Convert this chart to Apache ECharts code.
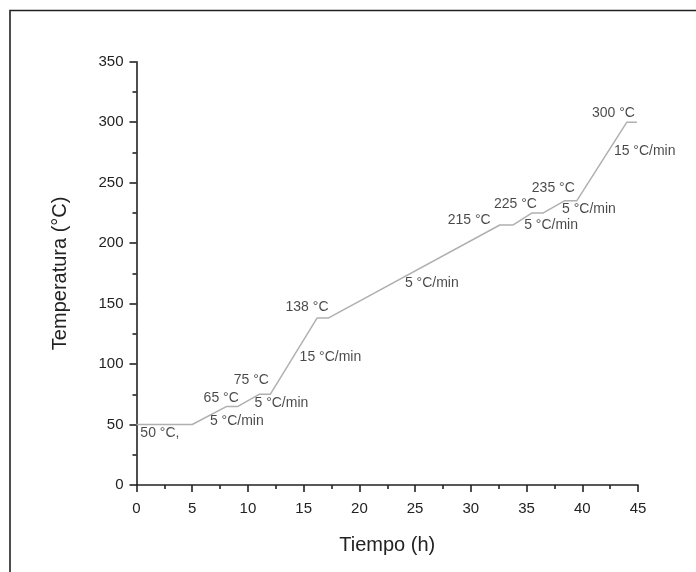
<!DOCTYPE html>
<html>
<head>
<meta charset="utf-8">
<script src="https://cdn.jsdelivr.net/npm/echarts@6/dist/echarts.min.js"></script>
<style>
  html, body { margin: 0; padding: 0; background: #fff; }
  #chart { width: 696px; height: 572px; }
</style>
</head>
<body>
<div id="chart"></div>
<script>
// Heating programme: time (h) vs. temperature (°C)
const timeH = [0, 5, 8.1, 9.1, 11, 12, 16.2, 17.2, 32.6, 33.8, 35.5, 36.5, 38.4, 39.5, 44, 44.9];
const tempC = [50, 50, 65, 65, 75, 75, 138, 138, 215, 215, 225, 225, 235, 235, 300, 300];

// Step annotations (text and anchor position in data units)
const noteText = ['50 °C,', '65 °C', '5 °C/min', '75 °C', '5 °C/min', '138 °C', '15 °C/min',
                  '5 °C/min', '215 °C', '225 °C', '5 °C/min', '235 °C', '5 °C/min', '300 °C', '15 °C/min'];
const noteX = [2.1, 7.6, 9.0, 10.3, 13.0, 15.3, 17.4, 26.5, 29.85, 34.0, 37.2, 37.4, 40.6, 42.8, 45.6];
const noteY = [43, 71.7, 52.9, 86.8, 67.5, 147.4, 106.1, 166.8, 219.1, 232.1, 215.0, 245.3, 227.9, 307.8, 276.4];

const xTicks = [0, 5, 10, 15, 20, 25, 30, 35, 40, 45];
const yTicks = [0, 50, 100, 150, 200, 250, 300, 350];

const FONT = "'Liberation Sans', Arial, sans-serif";
const INK = '#222';

const chart = echarts.init(document.getElementById('chart'), null, { renderer: 'canvas' });

chart.setOption({
  animation: false,
  backgroundColor: '#fff',
  textStyle: { fontFamily: FONT },
  graphic: [{
    type: 'rect',
    shape: { x: 10, y: 10.5, width: 700, height: 600 },
    style: { fill: 'none', stroke: INK, lineWidth: 1.6 },
    silent: true
  }],
  grid: { left: 136.5, right: 58, top: 61.7, bottom: 87, containLabel: false },
  xAxis: {
    type: 'value',
    min: xTicks[0],
    max: xTicks[xTicks.length - 1],
    interval: 5,
    name: 'Tiempo (h)',
    nameLocation: 'middle',
    nameGap: 50,
    nameTextStyle: { fontSize: 20, color: INK, fontFamily: FONT },
    axisLine: { show: true, onZero: false, lineStyle: { color: INK, width: 1.6 } },
    axisTick: { show: true, inside: false, length: 7, lineStyle: { color: INK, width: 1.6 } },
    minorTick: { show: true, splitNumber: 2, length: 4, lineStyle: { color: INK, width: 1.6 } },
    axisLabel: { fontSize: 15, color: INK, margin: 16, fontFamily: FONT },
    splitLine: { show: false }
  },
  yAxis: {
    type: 'value',
    min: yTicks[0],
    max: yTicks[yTicks.length - 1],
    interval: 50,
    name: 'Temperatura (°C)',
    nameLocation: 'middle',
    nameGap: 66,
    nameTextStyle: { fontSize: 20, color: INK, fontFamily: FONT },
    axisLine: { show: true, onZero: false, lineStyle: { color: INK, width: 1.6 } },
    axisTick: { show: true, inside: false, length: 7, lineStyle: { color: INK, width: 1.6 } },
    minorTick: { show: true, splitNumber: 2, length: 4, lineStyle: { color: INK, width: 1.6 } },
    axisLabel: { fontSize: 15, color: INK, margin: 13, fontFamily: FONT },
    splitLine: { show: false }
  },
  series: [
    {
      type: 'line',
      data: timeH.map((t, i) => [t, tempC[i]]),
      showSymbol: false,
      symbol: 'none',
      lineStyle: { color: '#b0b0b0', width: 1.5 },
      z: 2
    },
    {
      type: 'scatter',
      data: noteX.map((x, i) => ({ value: [x, noteY[i]], label: { formatter: noteText[i] } })),
      symbolSize: 0,
      clip: false,
      silent: true,
      itemStyle: { color: '#fff' },
      label: {
        show: true,
        position: 'inside',
        fontSize: 14,
        color: '#1a1a1a',
        textBorderWidth: 0,
        fontFamily: FONT
      },
      z: 3
    }
  ]
});
</script>
</body>
</html>
